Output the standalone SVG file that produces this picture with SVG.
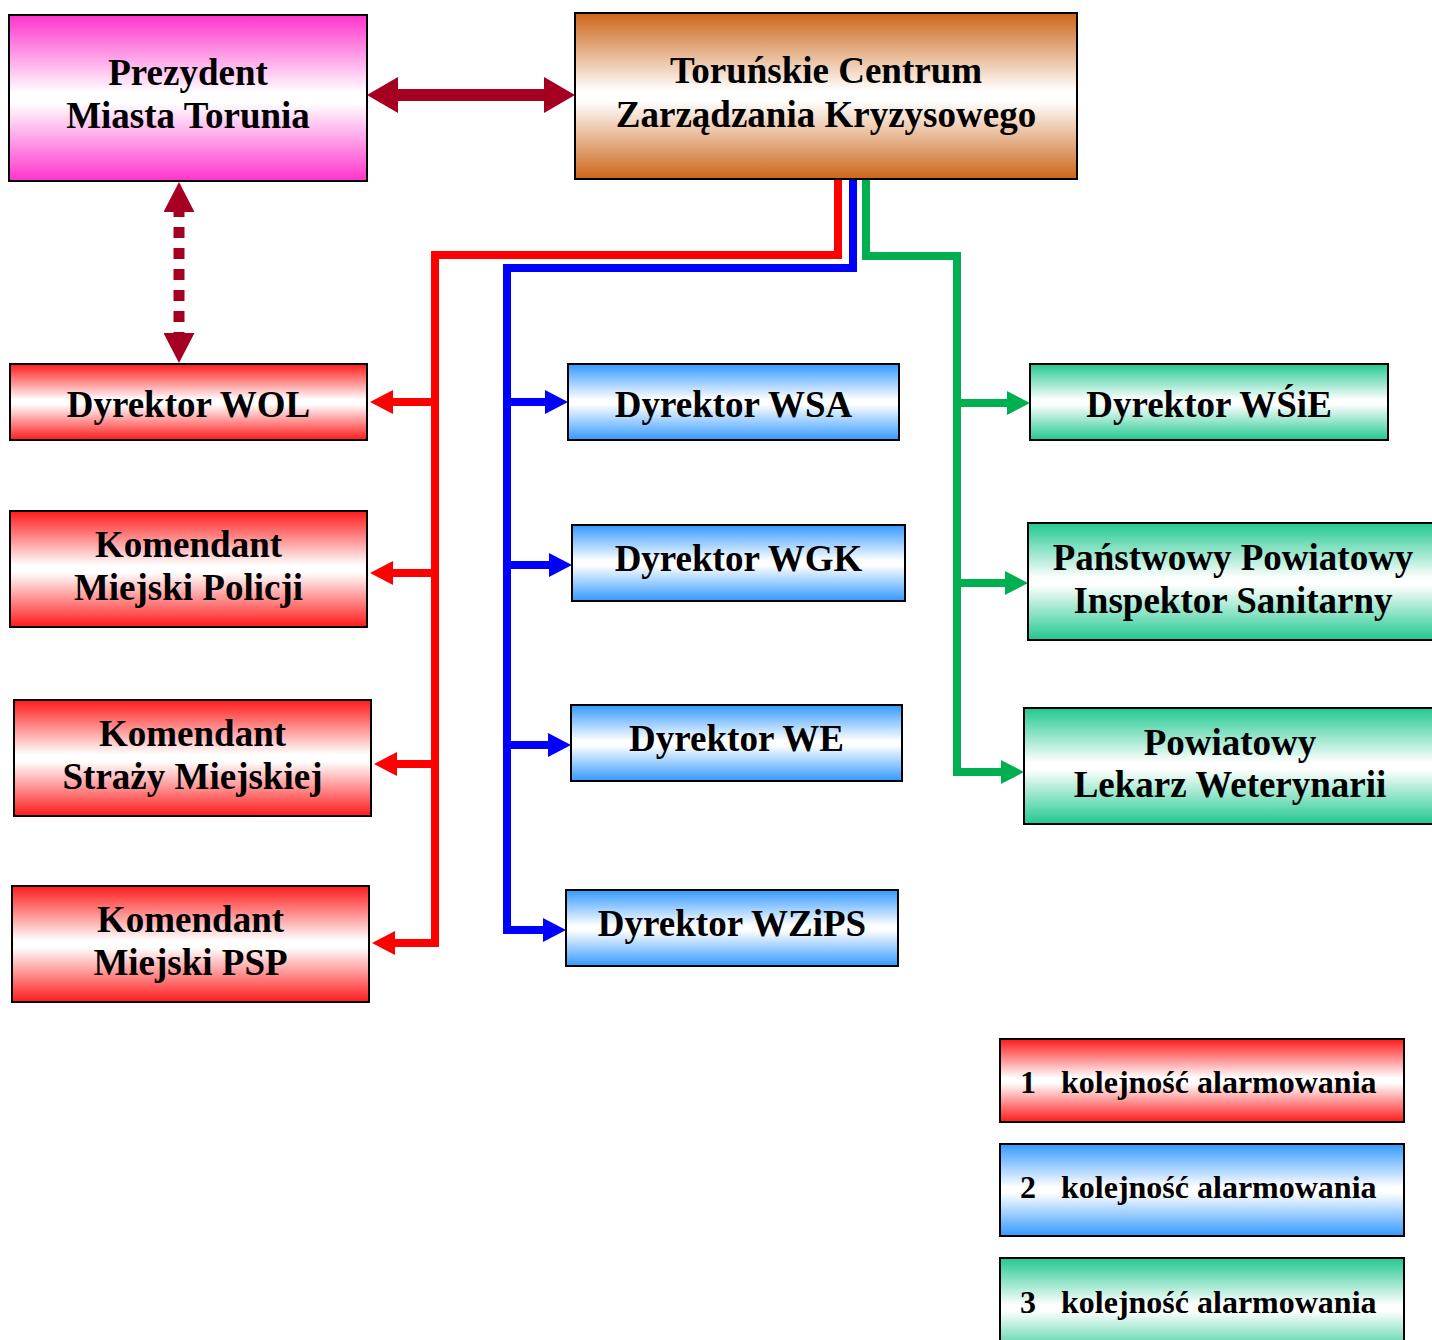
<svg xmlns="http://www.w3.org/2000/svg" width="1432" height="1340" viewBox="0 0 1432 1340">
<defs>
<linearGradient id="gPink" x1="0" y1="0" x2="0" y2="1"><stop offset="0" stop-color="#FF33CC"/><stop offset="0.47" stop-color="#FFFFFF"/><stop offset="0.53" stop-color="#FFFFFF"/><stop offset="1" stop-color="#FF33CC"/></linearGradient>
<linearGradient id="gBrown" x1="0" y1="0" x2="0" y2="1"><stop offset="0" stop-color="#CC6619"/><stop offset="0.47" stop-color="#FFFFFF"/><stop offset="0.53" stop-color="#FFFFFF"/><stop offset="1" stop-color="#CC6619"/></linearGradient>
<linearGradient id="gRed" x1="0" y1="0" x2="0" y2="1"><stop offset="0" stop-color="#FF1A1A"/><stop offset="0.47" stop-color="#FFFFFF"/><stop offset="0.53" stop-color="#FFFFFF"/><stop offset="1" stop-color="#FF1A1A"/></linearGradient>
<linearGradient id="gBlue" x1="0" y1="0" x2="0" y2="1"><stop offset="0" stop-color="#3399FF"/><stop offset="0.47" stop-color="#FFFFFF"/><stop offset="0.53" stop-color="#FFFFFF"/><stop offset="1" stop-color="#3399FF"/></linearGradient>
<linearGradient id="gGreen" x1="0" y1="0" x2="0" y2="1"><stop offset="0" stop-color="#21C890"/><stop offset="0.47" stop-color="#FFFFFF"/><stop offset="0.53" stop-color="#FFFFFF"/><stop offset="1" stop-color="#21C890"/></linearGradient>
<marker id="mRed" viewBox="0 0 23 24" refX="0" refY="12" markerWidth="23" markerHeight="24" markerUnits="userSpaceOnUse" orient="auto"><path d="M0,0 L23,12 L0,24 Z" fill="#FF0000"/></marker>
<marker id="mBlue" viewBox="0 0 23 24" refX="0" refY="12" markerWidth="23" markerHeight="24" markerUnits="userSpaceOnUse" orient="auto"><path d="M0,0 L23,12 L0,24 Z" fill="#0000FF"/></marker>
<marker id="mGreen" viewBox="0 0 23 24" refX="0" refY="12" markerWidth="23" markerHeight="24" markerUnits="userSpaceOnUse" orient="auto"><path d="M0,0 L23,12 L0,24 Z" fill="#00B050"/></marker>
<marker id="mDark" viewBox="0 0 31 36" refX="0" refY="18" markerWidth="31" markerHeight="36" markerUnits="userSpaceOnUse" orient="auto-start-reverse"><path d="M0,0 L31,18 L0,36 Z" fill="#A50021"/></marker>
<marker id="mDarkS" viewBox="0 0 30 31" refX="0" refY="15.5" markerWidth="30" markerHeight="31" markerUnits="userSpaceOnUse" orient="auto-start-reverse"><path d="M0,0 L30,15.5 L0,31 Z" fill="#A50021"/></marker>
</defs>
<style>
.box{stroke:#000;stroke-width:2}
.t{font-family:"Liberation Serif","Times New Roman",serif;font-weight:bold;font-size:37px;fill:#000;text-anchor:middle}
.lg{font-family:"Liberation Serif","Times New Roman",serif;font-weight:bold;font-size:32px;fill:#000}
.cr{fill:none;stroke:#FF0000;stroke-width:8;stroke-linejoin:miter}
.cb{fill:none;stroke:#0000FF;stroke-width:8;stroke-linejoin:miter}
.cg{fill:none;stroke:#00B050;stroke-width:8;stroke-linejoin:miter}
</style>

<g id="connectors">
<path d="M398,95 H544" fill="none" stroke="#A50021" stroke-width="12" marker-start="url(#mDark)" marker-end="url(#mDark)"/>
<path d="M179,212 V333" fill="none" stroke="#A50021" stroke-width="11" stroke-dasharray="11 10" stroke-dashoffset="-15" marker-start="url(#mDarkS)" marker-end="url(#mDarkS)"/>

<path class="cr" d="M838,179 V255 H435 V943 H395" marker-end="url(#mRed)"/>
<path class="cr" d="M435,402 H393" marker-end="url(#mRed)"/>
<path class="cr" d="M435,573 H393" marker-end="url(#mRed)"/>
<path class="cr" d="M435,764 H397" marker-end="url(#mRed)"/>

<path class="cb" d="M853,179 V268 H507 V930 H543" marker-end="url(#mBlue)"/>
<path class="cb" d="M507,402 H545" marker-end="url(#mBlue)"/>
<path class="cb" d="M507,565 H549" marker-end="url(#mBlue)"/>
<path class="cb" d="M507,745 H548" marker-end="url(#mBlue)"/>

<path class="cg" d="M866,179 V256 H957 V772 H1001" marker-end="url(#mGreen)"/>
<path class="cg" d="M957,403 H1007" marker-end="url(#mGreen)"/>
<path class="cg" d="M957,583 H1005" marker-end="url(#mGreen)"/>
</g>

<g id="prezydent"><rect class="box" x="9" y="15" width="358" height="166" fill="url(#gPink)"/><text class="t" x="188" y="85">Prezydent</text><text class="t" x="188" y="128">Miasta Torunia</text></g>
<g id="tczk"><rect class="box" x="575" y="13" width="502" height="166" fill="url(#gBrown)"/><text class="t" x="826" y="83">Toruńskie Centrum</text><text class="t" x="826" y="127">Zarządzania Kryzysowego</text></g>

<g id="wol"><rect class="box" x="10" y="364" width="357" height="76" fill="url(#gRed)"/><text class="t" x="188.5" y="417">Dyrektor WOL</text></g>
<g id="kmp"><rect class="box" x="10" y="511" width="357" height="116" fill="url(#gRed)"/><text class="t" x="188.5" y="557">Komendant</text><text class="t" x="188.5" y="600">Miejski Policji</text></g>
<g id="ksm"><rect class="box" x="14" y="700" width="357" height="116" fill="url(#gRed)"/><text class="t" x="192.5" y="746">Komendant</text><text class="t" x="192.5" y="789">Straży Miejskiej</text></g>
<g id="kmpsp"><rect class="box" x="12" y="886" width="357" height="116" fill="url(#gRed)"/><text class="t" x="190.5" y="932">Komendant</text><text class="t" x="190.5" y="975">Miejski PSP</text></g>

<g id="wsa"><rect class="box" x="568" y="364" width="331" height="76" fill="url(#gBlue)"/><text class="t" x="733.5" y="417">Dyrektor WSA</text></g>
<g id="wgk"><rect class="box" x="572" y="525" width="333" height="76" fill="url(#gBlue)"/><text class="t" x="738.5" y="571">Dyrektor WGK</text></g>
<g id="we"><rect class="box" x="571" y="705" width="331" height="76" fill="url(#gBlue)"/><text class="t" x="736.5" y="751">Dyrektor WE</text></g>
<g id="wzips"><rect class="box" x="566" y="890" width="332" height="76" fill="url(#gBlue)"/><text class="t" x="732" y="936">Dyrektor WZiPS</text></g>

<g id="wsie"><rect class="box" x="1030" y="364" width="358" height="76" fill="url(#gGreen)"/><text class="t" x="1209" y="417">Dyrektor WŚiE</text></g>
<g id="ppis"><rect class="box" x="1028" y="523" width="410" height="117" fill="url(#gGreen)"/><text class="t" x="1233" y="570">Państwowy Powiatowy</text><text class="t" x="1233" y="613">Inspektor Sanitarny</text></g>
<g id="plw"><rect class="box" x="1024" y="708" width="412" height="116" fill="url(#gGreen)"/><text class="t" x="1230" y="755">Powiatowy</text><text class="t" x="1230" y="797">Lekarz Weterynarii</text></g>

<g id="legend1"><rect class="box" x="1000" y="1039" width="404" height="83" fill="url(#gRed)"/><text class="lg" x="1020" y="1093">1</text><text class="lg" x="1061" y="1093">kolejność alarmowania</text></g>
<g id="legend2"><rect class="box" x="1000" y="1144" width="404" height="92" fill="url(#gBlue)"/><text class="lg" x="1020" y="1198">2</text><text class="lg" x="1061" y="1198">kolejność alarmowania</text></g>
<g id="legend3"><rect class="box" x="1000" y="1258" width="404" height="100" fill="url(#gGreen)"/><text class="lg" x="1020" y="1313">3</text><text class="lg" x="1061" y="1313">kolejność alarmowania</text></g>
</svg>
